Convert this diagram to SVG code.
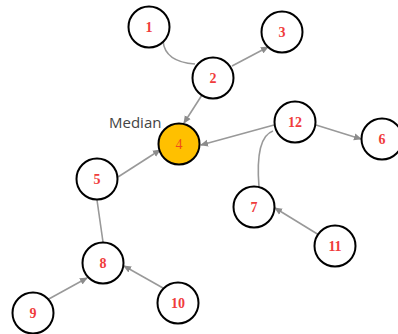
<svg xmlns="http://www.w3.org/2000/svg" width="398" height="334" viewBox="0 0 398 334">
<defs>
<marker id="ah" markerWidth="8" markerHeight="8" refX="7" refY="4" orient="auto" markerUnits="userSpaceOnUse">
<path d="M0,0.5 L8,4 L0,7.5 Z" fill="#8c8c8c"/>
</marker>
</defs>
<style>
.n circle{fill:#fff;stroke:#000;stroke-width:2}
.n text{font-family:"Liberation Serif",serif;font-size:14px;font-weight:bold;fill:#f03c3c;text-anchor:middle;dominant-baseline:central}
.e{fill:none;stroke:#999;stroke-width:1.6}
.a{marker-end:url(#ah)}
</style>
<rect width="398" height="334" fill="#fff"/>
<g id="connectors">
<path class="e" d="M163,41 Q165,62 195,64"/>
<path class="e a" d="M232,66 L268,47"/>
<path class="e a" d="M202,95 L184,123"/>
<path class="e a" d="M274,125 L201,145"/>
<path class="e a" d="M118,177 L160,150"/>
<path class="e a" d="M316,125 L361,139"/>
<path class="e" d="M273,131 Q255,137 259,187"/>
<path class="e a" d="M319,235 L275,208"/>
<path class="e" d="M97,200 L103,242"/>
<path class="e a" d="M47,300 L87,278"/>
<path class="e a" d="M163,288 L124,266"/>
</g>
<text x="109" y="128" style="font-family:'Open Sans',sans-serif;font-size:15px;fill:#444">Median</text>
<g id="n1" class="n"><circle cx="149" cy="27" r="20.5"/><text x="149" y="27">1</text></g>
<g id="n2" class="n"><circle cx="213" cy="78" r="20.5"/><text x="213" y="78">2</text></g>
<g id="n3" class="n"><circle cx="282" cy="32" r="20.5"/><text x="282" y="32">3</text></g>
<g id="n4" class="n"><circle cx="179" cy="144" r="20.5" style="fill:#ffc000"/><text x="179" y="144" style="fill:#f04a1a;font-weight:normal">4</text></g>
<g id="n5" class="n"><circle cx="97" cy="179" r="20.5"/><text x="97" y="179">5</text></g>
<g id="n6" class="n"><circle cx="382" cy="139" r="20.5"/><text x="382" y="139">6</text></g>
<g id="n7" class="n"><circle cx="254" cy="207" r="20.5"/><text x="254" y="207">7</text></g>
<g id="n8" class="n"><circle cx="103" cy="263" r="20.5"/><text x="103" y="263">8</text></g>
<g id="n9" class="n"><circle cx="33" cy="313" r="20.5"/><text x="33" y="313">9</text></g>
<g id="n10" class="n"><circle cx="178" cy="303" r="20.5"/><text x="178" y="303">10</text></g>
<g id="n11" class="n"><circle cx="335" cy="246" r="20.5"/><text x="335" y="246">11</text></g>
<g id="n12" class="n"><circle cx="295" cy="122" r="20.5"/><text x="295" y="122">12</text></g>
</svg>
